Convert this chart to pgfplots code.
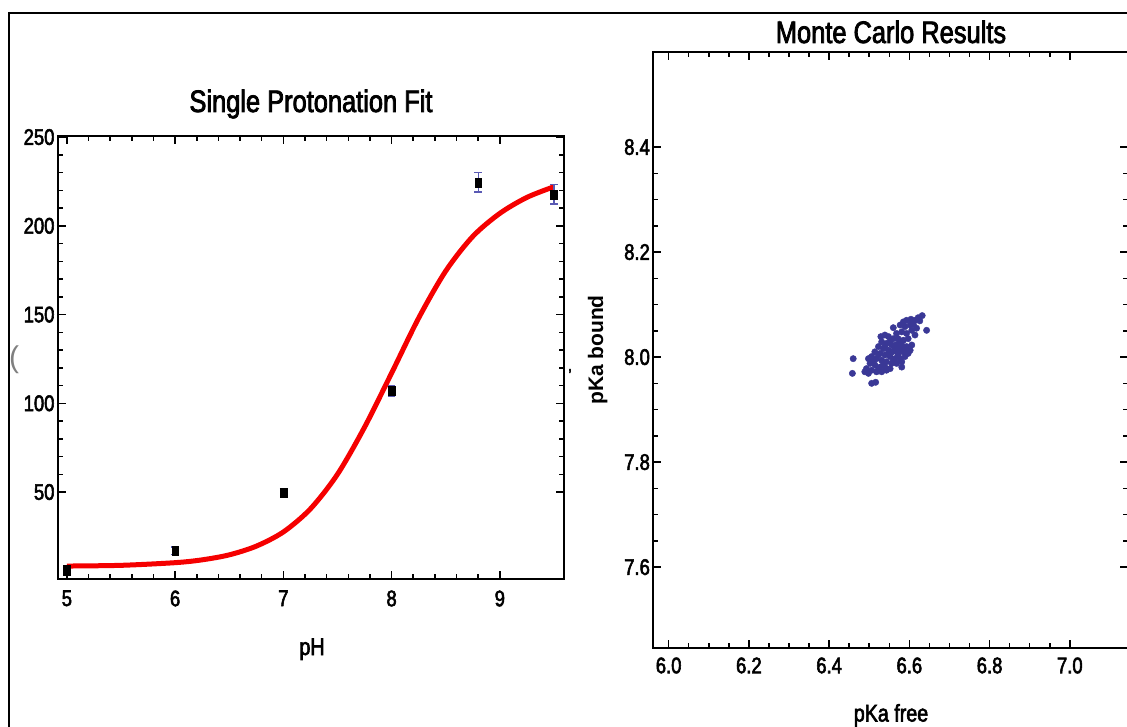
\documentclass[border=0pt]{standalone}
\usepackage{fontspec}
\setmainfont{Liberation Sans}[FakeStretch=0.82, FakeBold=2.5]
\newfontfamily\plainsans{Liberation Sans}
\usepackage{pgfplots}
\pgfplotsset{compat=1.18}

\definecolor{dotblue}{RGB}{58,56,150}
\definecolor{errblue}{RGB}{90,90,180}
\definecolor{fitred}{RGB}{245,0,0}

\pgfplotsset{
  panel/.style={
    scale only axis,
    axis line style={line width=2pt},
    every tick/.style={line width=1.5pt, black},
    major tick length=8pt, minor tick length=5pt,
    tick align=inside,
    tick label style={font=\fontsize{22.5}{22.5}\selectfont},
    /pgf/number format/assume math mode=true,
  },
}

\begin{document}
\begin{tikzpicture}

% left panel
\begin{axis}[panel,
  at={(58pt,147pt)}, anchor=south west,
  width=506pt, height=443pt,
  xmin=4.918, xmax=9.593, ymin=1, ymax=250.6,
  xtick={5,6,7,8,9}, ytick={50,100,150,200,250},
  minor x tick num=4, minor y tick num=4,
  xticklabel style={yshift=-8pt},
]
\addplot[fitred, line width=5pt, smooth] coordinates {
 (5.0,8.3) (5.5,8.7) (6.0,10.2) (6.25,11.8) (6.5,14.6) (6.75,19.5)
 (7.0,27.5) (7.25,40.5) (7.5,60) (7.75,86.5) (8.0,117) (8.25,148)
 (8.5,174.5) (8.75,194) (9.0,207) (9.25,216) (9.5,222)
};
\addplot[only marks, mark=square*, black, mark size=4pt,
  mark options={xscale=0.85, yscale=1.15},
  error bars/.cd, y dir=both, y explicit,
  error bar style={errblue, line width=1.3pt},
  error mark options={rotate=90, errblue, line width=1.3pt, mark size=3.8pt}]
  table[x=x, y=y, y error=e] {
x    y     e
5.0  6.0   2.0
6.0  17.0  2.0
7.0  49.5  2.5
8.0  107.0 3.0
8.8  224.5 5.5
9.5  217.7 5.5
};
\end{axis}

% right panel
\begin{axis}[panel,
  at={(653.4pt,78pt)}, anchor=south west,
  width=475pt, height=596pt,
  xmin=5.962, xmax=7.146, ymin=7.446, ymax=8.581,
  xtick={6.0,6.2,6.4,6.6,6.8,7.0},
  xticklabels={6.0,6.2,6.4,6.6,6.8,7.0},
  ytick={7.6,7.8,8.0,8.2,8.4},
  yticklabels={7.6,7.8,8.0,8.2,8.4},
  minor x tick num=3, minor y tick num=3,
  xticklabel style={yshift=-6pt},
]
\addplot[only marks, mark=*, mark size=3.2pt, dotblue,
  mark options={fill=dotblue, draw=dotblue}] table {
6.632 8.079
6.622 8.075
6.614 8.070
6.604 8.072
6.593 8.070
6.585 8.067
6.643 8.051
6.618 8.055
6.577 8.061
6.589 8.058
6.602 8.061
6.610 8.062
6.581 8.048
6.593 8.045
6.560 8.056
6.539 8.042
6.548 8.039
6.560 8.035
6.572 8.035
6.585 8.032
6.597 8.035
6.531 8.029
6.543 8.026
6.556 8.023
6.568 8.024
6.581 8.023
6.593 8.020
6.523 8.020
6.535 8.016
6.548 8.013
6.560 8.011
6.572 8.010
6.585 8.010
6.597 8.007
6.514 8.010
6.527 8.007
6.539 8.004
6.552 8.001
6.564 7.997
6.577 7.997
6.506 8.001
6.518 7.997
6.531 7.994
6.543 7.991
6.556 7.988
6.568 7.988
6.581 7.991
6.498 7.997
6.502 7.988
6.514 7.985
6.527 7.981
6.539 7.981
6.552 7.978
6.493 7.978
6.506 7.975
6.518 7.972
6.531 7.972
6.498 7.969
6.460 7.997
6.458 7.969
6.506 7.950
6.516 7.952
6.568 8.045
6.606 8.051
6.552 8.030
6.577 8.029
6.606 8.023
6.539 8.020
6.564 8.018
6.589 8.016
6.523 8.004
6.548 8.005
6.572 8.004
6.589 8.001
6.510 7.991
6.535 7.986
6.560 7.994
6.523 7.977
6.543 7.975
6.614 8.042
6.626 8.069
6.529 8.039
6.602 8.013
6.581 7.981
6.489 7.972
6.556 8.010
6.577 8.016
};
\end{axis}

% titles and labels
\node[anchor=base, font=\fontsize{31}{31}\selectfont] at (311pt,614pt) {Single Protonation Fit};
\node[anchor=base, font=\fontsize{31}{31}\selectfont] at (891pt,683pt) {Monte Carlo Results};
\node[anchor=base, font=\fontsize{24}{24}\selectfont] at (312pt,71pt) {pH};
\node[anchor=base, font=\fontsize{24}{24}\selectfont] at (891pt,4.5pt) {pKa free};
\node[anchor=base, rotate=90, font=\plainsans\bfseries\fontsize{21}{21}\selectfont] at (603pt,376pt) {pKa bound};

% cropped remnants of the original figure
\node[gray, font=\plainsans\fontsize{30}{30}\selectfont] at (14pt,366pt) {(};
\node[black, font=\fontsize{16}{16}\selectfont] at (570pt,355pt) {,};

% frame of the original figure
\draw[line width=2.6pt] (8pt,713pt) -- (1132pt,713pt);
\draw[line width=1.8pt] (9pt,714pt) -- (9pt,-2pt);

\pgfresetboundingbox
\path[use as bounding box] (0,0) rectangle (1127pt,726pt);
\end{tikzpicture}
\end{document}
